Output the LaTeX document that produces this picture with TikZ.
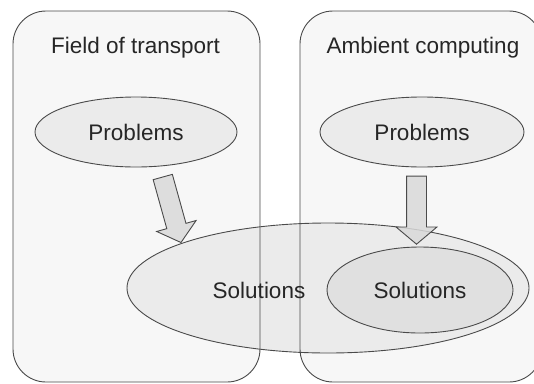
\documentclass[tikz,border=0pt]{standalone}
\usepackage{fontspec}
\setmainfont{Liberation Sans}
\usetikzlibrary{shapes.geometric,shapes.arrows}
\definecolor{panelfill}{HTML}{F7F7F7}
\definecolor{blobfill}{HTML}{EBEBEB}
\definecolor{innerfill}{HTML}{E0E0E0}
\definecolor{arrowfill}{HTML}{D9D9D9}
\definecolor{edge}{HTML}{4A4A4A}
\begin{document}
\begin{tikzpicture}[x=1pt,y=-1pt,
  panel/.style={rectangle, rounded corners=33pt, inner sep=0pt, line width=0.9pt},
  blob/.style={ellipse, draw=edge, line width=0.9pt, fill=blobfill, inner sep=0pt},
  txt/.style={font=\fontsize{22.5}{27}\selectfont, text=black!85, inner sep=0pt},
  fatarrow/.style={single arrow, draw=edge, fill=arrowfill, fill opacity=0.85,
    draw opacity=1, line width=0.9pt, inner xsep=0pt, inner ysep=9.5pt,
    single arrow head extend=10.5pt, single arrow tip angle=100,
    minimum height=68pt, sloped, allow upside down}
]
\useasboundingbox (0,0) rectangle (534,383);
\begin{scope}
\clip (0,0) rectangle (534,383);

% the two fields
\node[panel, fill=panelfill, minimum width=247pt, minimum height=371pt] (ft) at (136.5,196.5) {};
\node[panel, fill=panelfill, minimum width=242pt, minimum height=371pt] (ac) at (421,196.5) {};
\node[txt] (ftlabel) at (135.5,48) {Field of transport};
\node[txt] (aclabel) at (423,48) {Ambient computing};

% problems in each field
\node[blob, minimum width=202pt, minimum height=70pt] (pl) at (136,132) {};
\node[blob, minimum width=204pt, minimum height=70pt] (pr) at (422,132) {};
\node[txt] (pltext) at (pl.center) {Problems};
\node[txt] (prtext) at (pr.center) {Problems};

% shared solution space
\node[blob, minimum width=402pt, minimum height=130pt] (sol) at (328,288) {};

% field outlines stay visible over the solution space
\node[panel, draw=edge, minimum width=247pt, minimum height=371pt] (ftframe) at (ft.center) {};
\node[panel, draw=edge, minimum width=242pt, minimum height=371pt] (acframe) at (ac.center) {};

\node[blob, fill=innerfill, minimum width=186pt, minimum height=86pt] (soli) at (420,290) {};
\node[txt] (soltext) at (259,290) {Solutions};
\node[txt] (solitext) at (soli.center) {Solutions};

% arrows from problems to solutions
\coordinate (a1s) at (161.5,172.5);
\coordinate (a1e) at (180,239);
\coordinate (a2s) at (416.5,172);
\coordinate (a2e) at (416.5,240);
\path (a1s) -- (a1e) node[fatarrow, midway] (arl) {};
\path (a2s) -- (a2e) node[fatarrow, midway] (arr) {};
\end{scope}
\end{tikzpicture}
\end{document}
